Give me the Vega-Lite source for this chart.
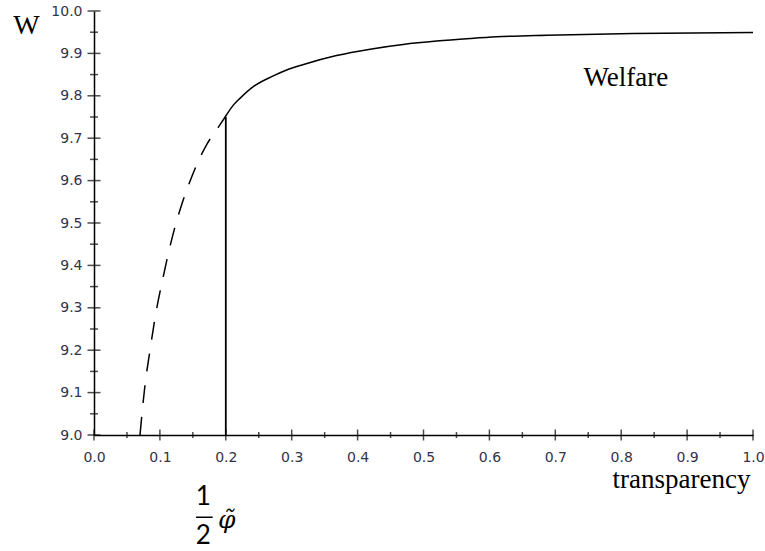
{
  "$schema": "https://vega.github.io/schema/vega-lite/v6.json",
  "width": 659,
  "height": 424,
  "autosize": "none",
  "padding": {"left": 94, "top": 11, "right": 12, "bottom": 116},
  "background": "white",
  "config": {"view": {"stroke": null}, "axis": {"grid": false}},
  "datasets": {
    "solid": [
      {"x": 0.199, "w": 9.75},
      {"x": 0.2114, "w": 9.778},
      {"x": 0.2215, "w": 9.794},
      {"x": 0.2417, "w": 9.8215},
      {"x": 0.272, "w": 9.847},
      {"x": 0.2923, "w": 9.861},
      {"x": 0.318, "w": 9.874},
      {"x": 0.368, "w": 9.895},
      {"x": 0.419, "w": 9.910},
      {"x": 0.469, "w": 9.921},
      {"x": 0.52, "w": 9.929},
      {"x": 0.571, "w": 9.935},
      {"x": 0.611, "w": 9.939},
      {"x": 0.687, "w": 9.943},
      {"x": 0.818, "w": 9.947},
      {"x": 1.0, "w": 9.949}
    ],
    "dashed": [
      {"x": 0.0698, "w": 9.0},
      {"x": 0.0774, "w": 9.118},
      {"x": 0.085, "w": 9.2},
      {"x": 0.0926, "w": 9.276},
      {"x": 0.105, "w": 9.373},
      {"x": 0.119, "w": 9.468},
      {"x": 0.133, "w": 9.543},
      {"x": 0.142, "w": 9.583},
      {"x": 0.158, "w": 9.645},
      {"x": 0.171, "w": 9.685},
      {"x": 0.19, "w": 9.729},
      {"x": 0.199, "w": 9.75}
    ],
    "xmajor": [{"v": 0.0}, {"v": 0.1}, {"v": 0.2}, {"v": 0.3}, {"v": 0.4}, {"v": 0.5}, {"v": 0.6}, {"v": 0.7}, {"v": 0.8}, {"v": 0.9}, {"v": 1.0}],
    "xminor": [{"v": 0.05}, {"v": 0.15}, {"v": 0.25}, {"v": 0.35}, {"v": 0.45}, {"v": 0.55}, {"v": 0.65}, {"v": 0.75}, {"v": 0.85}, {"v": 0.95}],
    "ymajor": [{"v": 9.0}, {"v": 9.1}, {"v": 9.2}, {"v": 9.3}, {"v": 9.4}, {"v": 9.5}, {"v": 9.6}, {"v": 9.7}, {"v": 9.8}, {"v": 9.9}, {"v": 10.0}],
    "yminor": [{"v": 9.05}, {"v": 9.15}, {"v": 9.25}, {"v": 9.35}, {"v": 9.45}, {"v": 9.55}, {"v": 9.65}, {"v": 9.75}, {"v": 9.85}, {"v": 9.95}]
  },
  "layer": [
    {
      "data": {"name": "solid"},
      "mark": {"type": "line", "color": "black", "strokeWidth": 1.5, "interpolate": "monotone"},
      "encoding": {
        "x": {
          "field": "x", "type": "quantitative",
          "scale": {"domain": [0, 1], "nice": false, "zero": false},
          "axis": {
            "values": [0, 0.1, 0.2, 0.3, 0.4, 0.5, 0.6, 0.7, 0.8, 0.9, 1.0],
            "format": ".1f", "ticks": false, "labelPadding": 15,
            "labelFont": "DejaVu Sans", "labelFontSize": 14, "labelColor": "#33334a",
            "labelFlush": false, "labelOverlap": false,
            "domainColor": "black", "domainWidth": 1.5,
            "title": "transparency", "titleFont": "Liberation Serif", "titleFontSize": 27,
            "titleFontWeight": "normal", "titleColor": "black",
            "titleX": 656, "titleY": 44, "titleAlign": "right", "titleBaseline": "middle", "titleAnchor": null
          }
        },
        "y": {
          "field": "w", "type": "quantitative",
          "scale": {"domain": [9, 10], "nice": false, "zero": false},
          "axis": {
            "values": [9.0, 9.1, 9.2, 9.3, 9.4, 9.5, 9.6, 9.7, 9.8, 9.9, 10.0],
            "format": ".1f", "ticks": false, "labelPadding": 12,
            "labelFont": "DejaVu Sans", "labelFontSize": 14, "labelColor": "#33334a",
            "labelFlush": false, "labelOverlap": false,
            "domainColor": "black", "domainWidth": 1.5,
            "title": "W", "titleAngle": 0, "titleFont": "Liberation Serif", "titleFontSize": 28,
            "titleFontWeight": "normal", "titleColor": "black",
            "titleX": -68, "titleY": 14, "titleAlign": "center", "titleBaseline": "middle", "titleAnchor": null
          }
        }
      }
    },
    {
      "data": {"name": "dashed"},
      "mark": {"type": "line", "color": "black", "strokeWidth": 1.5, "interpolate": "monotone", "strokeDash": [18, 14]},
      "encoding": {
        "x": {"field": "x", "type": "quantitative", "title": "transparency"},
        "y": {"field": "w", "type": "quantitative", "title": "W"}
      }
    },
    {
      "data": {"values": [{"x": 0.2, "w": 9.0, "hi": 9.75}]},
      "mark": {"type": "rule", "color": "black", "strokeWidth": 1.8},
      "encoding": {
        "x": {"field": "x", "type": "quantitative", "title": "transparency"},
        "y": {"field": "w", "type": "quantitative", "title": "W"},
        "y2": {"field": "hi"}
      }
    },
    {
      "data": {"name": "xmajor"},
      "mark": {"type": "tick", "orient": "vertical", "size": 11, "thickness": 1.5, "color": "black"},
      "encoding": {
        "x": {"field": "v", "type": "quantitative", "title": "transparency"},
        "y": {"datum": 9.0, "type": "quantitative", "title": "W"}
      }
    },
    {
      "data": {"name": "xminor"},
      "mark": {"type": "tick", "orient": "vertical", "size": 6, "thickness": 1.5, "color": "black"},
      "encoding": {
        "x": {"field": "v", "type": "quantitative", "title": "transparency"},
        "y": {"datum": 9.0, "type": "quantitative", "title": "W"}
      }
    },
    {
      "data": {"name": "ymajor"},
      "mark": {"type": "tick", "orient": "horizontal", "size": 13, "thickness": 1.5, "color": "black"},
      "encoding": {
        "y": {"field": "v", "type": "quantitative", "title": "W"},
        "x": {"datum": 0, "type": "quantitative", "title": "transparency"}
      }
    },
    {
      "data": {"name": "yminor"},
      "mark": {"type": "tick", "orient": "horizontal", "size": 8, "thickness": 1.5, "color": "black"},
      "encoding": {
        "y": {"field": "v", "type": "quantitative", "title": "W"},
        "x": {"datum": 0, "type": "quantitative", "title": "transparency"}
      }
    },
    {
      "data": {"values": [{"label": "Welfare"}]},
      "mark": {"type": "text", "font": "Liberation Serif", "fontSize": 27, "color": "black", "align": "center", "baseline": "middle"},
      "encoding": {
        "x": {"datum": 0.807, "type": "quantitative", "title": "transparency"},
        "y": {"datum": 9.842, "type": "quantitative", "title": "W"},
        "text": {"field": "label"}
      }
    },
    {
      "data": {"values": [{"label": "1"}]},
      "mark": {"type": "text", "font": "Lato", "fontSize": 26, "color": "black", "align": "center", "baseline": "middle"},
      "encoding": {
        "x": {"datum": 0.1659, "type": "quantitative", "title": "transparency"},
        "y": {"datum": 8.853, "type": "quantitative", "title": "W"},
        "text": {"field": "label"}
      }
    },
    {
      "data": {"values": [{"label": "2"}]},
      "mark": {"type": "text", "font": "Lato", "fontSize": 26, "color": "black", "align": "center", "baseline": "middle"},
      "encoding": {
        "x": {"datum": 0.1659, "type": "quantitative", "title": "transparency"},
        "y": {"datum": 8.762, "type": "quantitative", "title": "W"},
        "text": {"field": "label"}
      }
    },
    {
      "data": {"values": [{"a": 0.1548, "b": 0.1801, "y": 8.806}]},
      "mark": {"type": "rule", "color": "black", "strokeWidth": 1.5},
      "encoding": {
        "x": {"field": "a", "type": "quantitative", "title": "transparency"},
        "x2": {"field": "b"},
        "y": {"field": "y", "type": "quantitative", "title": "W"}
      }
    },
    {
      "data": {"values": [{"label": "φ̃"}]},
      "mark": {"type": "text", "font": "DejaVu Serif", "fontStyle": "italic", "fontSize": 25, "color": "black", "align": "center", "baseline": "middle"},
      "encoding": {
        "x": {"datum": 0.2014, "type": "quantitative", "title": "transparency"},
        "y": {"datum": 8.8, "type": "quantitative", "title": "W"},
        "text": {"field": "label"}
      }
    }
  ]
}
